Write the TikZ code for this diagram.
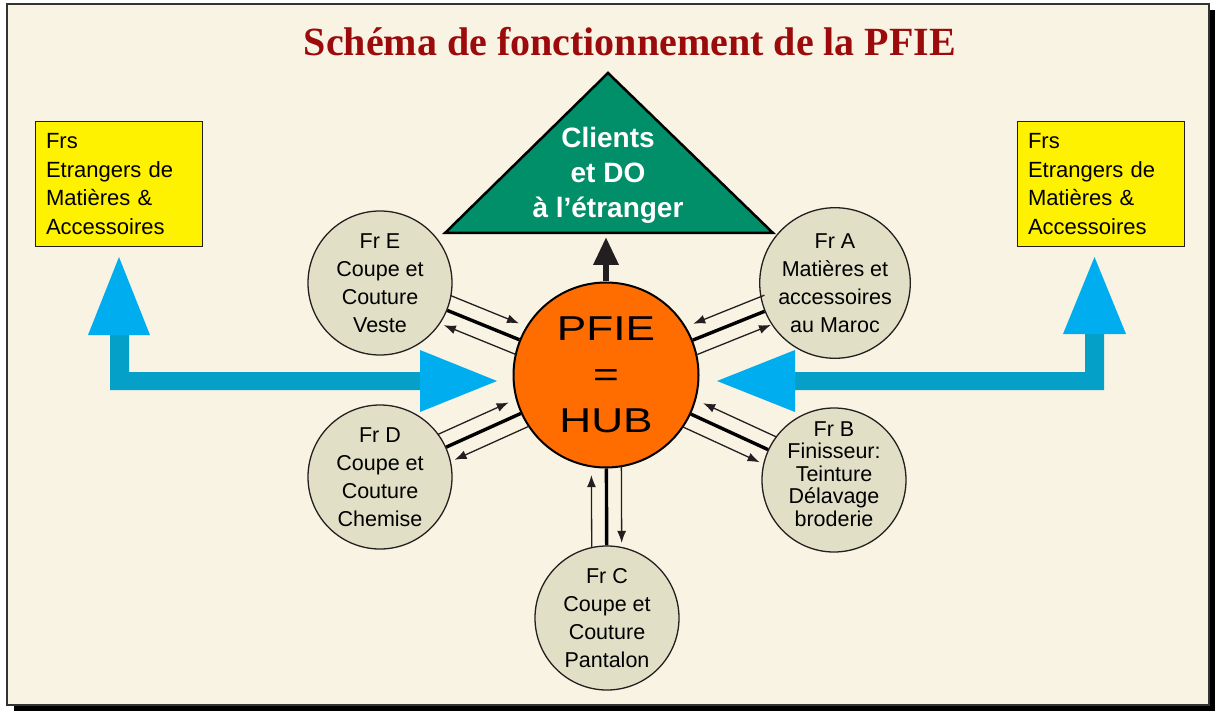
\documentclass[tikz,border=0pt]{standalone}
\usepackage{fontspec}
\setmainfont{Liberation Sans}
\newfontfamily\titlefont{Liberation Serif}
\usetikzlibrary{calc,arrows.meta}
\definecolor{bgpanel}{HTML}{F9F3E4}
\definecolor{satfill}{HTML}{E1E0C6}
\definecolor{hubfill}{HTML}{FF6C00}
\definecolor{trifill}{HTML}{008F68}
\definecolor{titlered}{HTML}{9B0B0B}
\definecolor{bandblue}{HTML}{05A0C8}
\definecolor{headblue}{HTML}{00AEEF}
\definecolor{linedark}{HTML}{231F20}
\newcommand\hublink[3]{%
  \draw[thickline] (#1) -- (hub);
  \draw[thinarrow] ($(#1)!70pt!(hub)!15pt!#2:(hub)$) -- ($(hub)!100pt!(#1)!15pt!#3:(#1)$);
  \draw[thinarrow] ($(hub)!91pt!(#1)!15pt!#2:(#1)$) -- ($(#1)!75pt!(hub)!15pt!#3:(hub)$);
}
\begin{document}
\begin{tikzpicture}[x=1pt,y=-1pt,
  sat/.style={circle, draw=linedark, line width=1.3pt, fill=satfill, minimum size=144pt,
    inner sep=0pt, align=center, font=\fontsize{21.5}{28}\selectfont, text=black},
  sattext/.style={align=center, font=\fontsize{21.5}{22.5}\selectfont, text=black, inner sep=0pt},
  hubst/.style={circle, draw=black, line width=2pt, fill=hubfill, minimum size=185pt,
    inner sep=0pt, align=center, font=\fontsize{34.5}{46}\selectfont, text=black},
  ybox/.style={draw=linedark, line width=1pt, fill=yellow, minimum width=167pt, minimum height=125pt,
    text width=145pt, inner xsep=11pt, align=left, font=\fontsize{22}{28.5}\selectfont, text=black},
  thickline/.style={draw=black, line width=3.4pt},
  thinarrow/.style={draw=linedark, line width=1.3pt, -{Latex[length=12pt,width=9pt]}},
]
\useasboundingbox (0,0) rectangle (1215,711);
% background panel with shadow
\fill[white] (0,0) rectangle (1215,711);
\fill[black] (14,10) rectangle (1215,711);
\filldraw[fill=bgpanel, draw=black!80, line width=1.2pt] (7,4) rectangle (1209,705);

% title
\node[font=\titlefont\bfseries\fontsize{40}{48}\selectfont, text=titlered, anchor=base] (title) at (630,56) {Schéma de fonctionnement de la PFIE};

% blue arrows left
\fill[bandblue] (110,335) -- (129,335) -- (129,372) -- (421,372) -- (421,390) -- (110,390) -- cycle;
\fill[headblue] (88,335) -- (150,335) -- (119,257) -- cycle;
\fill[headblue] (420,350) -- (497,381) -- (420,412) -- cycle;
% blue arrows right
\fill[bandblue] (1085,334) -- (1104,334) -- (1104,390) -- (794,390) -- (794,372) -- (1085,372) -- cycle;
\fill[headblue] (1063,334) -- (1126,334) -- (1094.5,257) -- cycle;
\fill[headblue] (795,350) -- (717,381) -- (795,412) -- cycle;

% yellow boxes
\node[ybox] (yl) at (118.5,184) {Frs\\Etrangers de\\Matières \&\\Accessoires};
\node[ybox] (yr) at (1100.5,184) {Frs\\Etrangers de\\Matières \&\\Accessoires};

% triangle
\filldraw[fill=trifill, draw=black, line width=2.5pt, line join=miter] (608,73) -- (773,233) -- (445,233) -- cycle;
\node[align=center, text=white, font=\bfseries\fontsize{28}{35}\selectfont, inner sep=0pt] (clients) at (608,175) {Clients\\et DO\\à l’étranger};
\coordinate (tribase) at (606,237);

% hub and satellites
\node[hubst] (hub) at (606,375) {\scalebox{1.28}[1]{PFIE}\\\scalebox{1.28}[1]{=}\\\scalebox{1.28}[1]{HUB}};
\draw[draw=linedark, line width=6.5pt, -{Triangle[length=28pt,width=24pt]}] (hub) -- (tribase);

\node[sat] (E) at (380,283) {Fr E\\Coupe et\\Couture\\Veste};
\node[sat] (A) at (835,283) {Fr A\\Matières et\\accessoires\\au Maroc};
\node[sat] (D) at (380,477) {Fr D\\Coupe et\\Couture\\Chemise};
\node[sat] (B) at (834,480) {};
\node[sattext] (Btext) at (834,474) {Fr B\\Finisseur:\\Teinture\\Délavage\\broderie};
\node[sat] (C) at (607,618) {Fr C\\Coupe et\\Couture\\Pantalon};

% links
\hublink{E}{90}{-90}
\hublink{D}{90}{-90}
\hublink{C}{90}{-90}
\hublink{A}{-90}{90}
\hublink{B}{-90}{90}
\end{tikzpicture}
\end{document}
